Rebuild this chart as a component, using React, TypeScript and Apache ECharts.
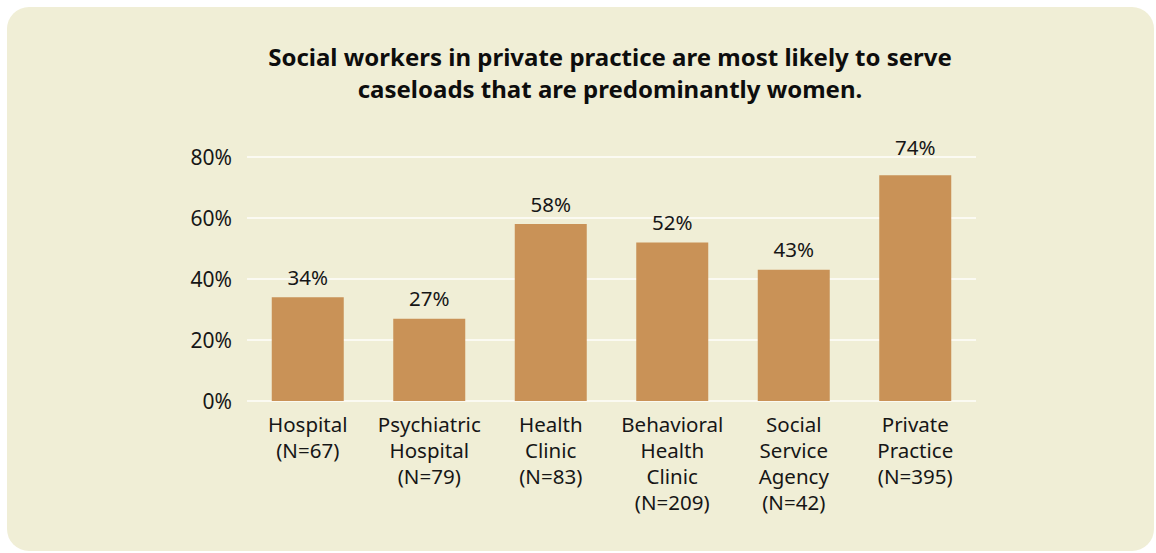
import React, { useEffect, useRef } from "react";
import * as echarts from "echarts";

const categories: string[] = [
  "Hospital\n(N=67)",
  "Psychiatric\nHospital\n(N=79)",
  "Health\nClinic\n(N=83)",
  "Behavioral\nHealth\nClinic\n(N=209)",
  "Social\nService\nAgency\n(N=42)",
  "Private\nPractice\n(N=395)",
];
const values: number[] = [34, 27, 58, 52, 43, 74];
const yTicks: number[] = [0, 20, 40, 60, 80];
const titleLines: string[] = [
  "Social workers in private practice are most likely to serve",
  "caseloads that are predominantly women.",
];

const FONT = "'Noto Sans', 'Open Sans', sans-serif";
const TEXT = "#161616";

export default function App() {
  const ref = useRef<HTMLDivElement>(null);
  useEffect(() => {
    if (!ref.current) return;
    const chart = echarts.init(ref.current, null, { renderer: "svg" });
    const maxIdx = values.indexOf(Math.max(...values));
    chart.setOption({
      animation: false,
      backgroundColor: "#ffffff",
      textStyle: { fontFamily: FONT },
      graphic: [
        {
          type: "rect",
          z: -10,
          silent: true,
          shape: { x: 7, y: 7, width: 1147, height: 544, r: 22 },
          style: { fill: "#f0eed6" },
        },
        {
          type: "text",
          x: 610,
          y: 72,
          z: 10,
          style: {
            text: titleLines.join("\n"),
            fontFamily: FONT,
            fontSize: 24,
            fontWeight: "bold",
            lineHeight: 32,
            fill: "#0d0d0d",
            textAlign: "center",
            textVerticalAlign: "middle",
          },
        },
      ],
      grid: { left: 247, right: 180, top: 157, bottom: 152, containLabel: false },
      xAxis: {
        type: "category",
        data: categories,
        axisLine: { show: false },
        axisTick: { show: false },
        axisLabel: {
          color: TEXT,
          fontSize: 20.5,
          lineHeight: 26,
          margin: 10,
          interval: 0,
          fontFamily: FONT,
        },
      },
      yAxis: {
        type: "value",
        min: yTicks[0],
        max: yTicks[yTicks.length - 1],
        interval: 20,
        axisLine: { show: false },
        axisTick: { show: false },
        axisLabel: {
          formatter: "{value}%",
          color: TEXT,
          fontSize: 21,
          margin: 15,
          fontFamily: FONT,
        },
        splitLine: { lineStyle: { color: "#fbfaf2", width: 2 } },
      },
      series: [
        {
          type: "bar",
          data: values.map((v, i) =>
            i === maxIdx ? { value: v, label: { distance: 18 } } : v
          ),
          barWidth: 72,
          itemStyle: { color: "#c99257" },
          label: {
            show: true,
            position: "top",
            distance: 10,
            formatter: "{c}%",
            color: TEXT,
            fontSize: 20.5,
            fontFamily: FONT,
          },
        },
      ],
    });
    return () => chart.dispose();
  }, []);
  return (
    <div
      ref={ref}
      style={{ position: "absolute", left: 0, top: 0, width: 1156, height: 553 }}
    />
  );
}
